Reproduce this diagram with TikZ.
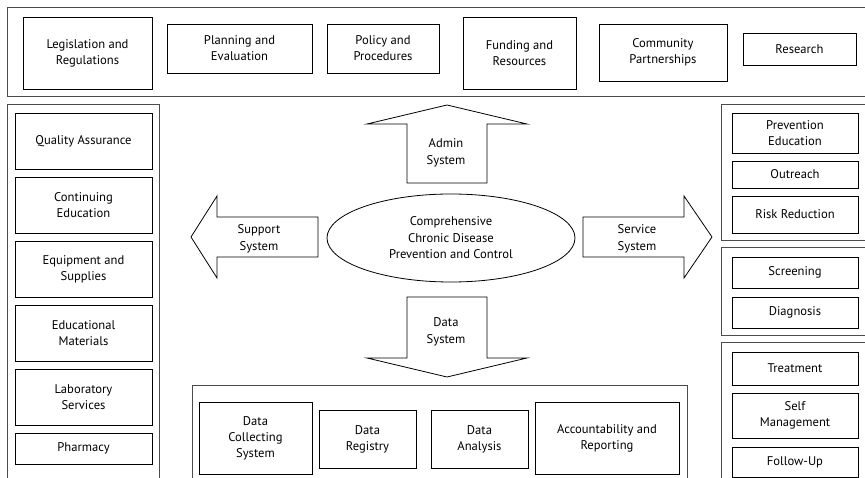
\documentclass[tikz,border=0pt]{standalone}
\usepackage{fontspec}
\setmainfont{PT Sans}
\usetikzlibrary{positioning,shapes.geometric}

\begin{document}
\begin{tikzpicture}[
    x=1pt, y=-1pt,
    frm/.style={draw=black!70, line width=1pt},
    box/.style 2 args={draw, line width=0.8pt, minimum width=#1pt, minimum height=#2pt, inner sep=0pt, outer sep=0pt, align=center, font=\fontsize{12.6}{16}\selectfont},
    lbl/.style={align=center, font=\fontsize{12.6}{16.5}\selectfont},
    arw/.style={draw, line width=0.8pt, line join=miter}
]
\useasboundingbox (0,0) rectangle (865,478);
\clip (0,0) rectangle (865,478);

% frames
\draw[frm] (7,8) rectangle (880,97);
\draw[frm] (7,105) rectangle (159,490);
\draw[frm] (721,105) rectangle (880,241);
\draw[frm] (721,248) rectangle (880,336);
\draw[frm] (721,343) rectangle (880,490);
\draw[frm] (192,385) rectangle (687,490);

% top row
\node[box={129}{72}] (leg)  at (87.5,53)  {Legislation and\\Regulations};
\node[box={145}{49}] (plan) at (239.5,48.5) {Planning and\\Evaluation};
\node[box={112}{49}] (pol)  at (383,48.5) {Policy and\\Procedures};
\node[box={113}{72}] (fund) at (519.5,53) {Funding and\\Resources};
\node[box={128}{57}] (comm) at (663,52.5) {Community\\Partnerships};
\node[box={113}{32}] (res)  at (799.5,49) {Research};

% left column
\node[box={137}{56}] (qa) at (83.5,141) {Quality Assurance};
\node[box={137}{56}, below=8pt of qa] (cont) {Continuing\\Education};
\node[box={137}{56}, below=8pt of cont] (equip) {Equipment and\\Supplies};
\node[box={137}{56}, below=8pt of equip] (edu) {Educational\\Materials};
\node[box={137}{56}, below=8pt of edu] (lab) {Laboratory\\Services};
\node[box={137}{31}, below=8pt of lab] (pharm) {Pharmacy};

% right column
\node[box={126}{40}] (prev) at (795,133) {Prevention\\Education};
\node[box={126}{27}, below=8pt of prev] (outr) {Outreach};
\node[box={126}{37}, below=8pt of outr] (risk) {Risk Reduction};
\node[box={126}{31}] (scr) at (795,272.5) {Screening};
\node[box={126}{31}, below=9pt of scr] (diag) {Diagnosis};
\node[box={126}{33}] (treat) at (795,368.5) {Treatment};
\node[box={126}{45}, below=8pt of treat] (self) {Self\\Management};
\node[box={126}{30}, below=9pt of self] (fup) {Follow-Up};

% bottom row
\node[box={113}{72}] (dcs)  at (255.5,438) {Data\\Collecting\\System};
\node[box={97}{58}]  (dreg) at (367.5,439) {Data\\Registry};
\node[box={97}{58}]  (dana) at (479.5,439) {Data\\Analysis};
\node[box={144}{72}] (acc)  at (607,438) {Accountability and\\Reporting};

% centre
\node[draw, line width=0.8pt, ellipse, minimum width=248pt, minimum height=88pt, inner sep=0pt, lbl] (core) at (451,238)
    {Comprehensive\\Chronic Disease\\Prevention and Control};

% block arrows
\draw[arw] (407,183) -- (407,124) -- (367,124) -- (447,105) -- (527,124) -- (487,124) -- (487,183) -- cycle;
\draw[arw] (407,297) -- (487,297) -- (487,358) -- (527,358) -- (447,377) -- (367,358) -- (407,358) -- cycle;
\draw[arw] (318,217) -- (217,217) -- (217,196) -- (191,237) -- (217,278) -- (217,257) -- (318,257) -- cycle;
\draw[arw] (583,217) -- (684,217) -- (684,196) -- (712,237) -- (684,278) -- (684,257) -- (583,257) -- cycle;

\node[lbl] (admin) at (446,153) {Admin\\System};
\node[lbl] (data)  at (446,332) {Data\\System};
\node[lbl] (supp)  at (259,239) {Support\\System};
\node[lbl] (serv)  at (637,239) {Service\\System};
\end{tikzpicture}
\end{document}
